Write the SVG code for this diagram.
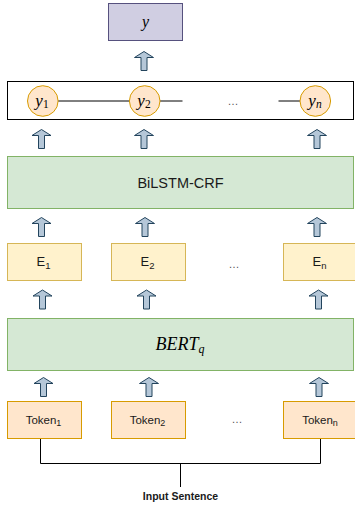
<svg xmlns="http://www.w3.org/2000/svg" width="355" height="506" viewBox="0 0 355 506">
<style>
.math{font-family:"Liberation Serif","DejaVu Serif",serif;font-style:italic;fill:#000}
.sans{font-family:"Liberation Sans",Arial,sans-serif;fill:#1a1a1a}
.green{fill:#d5e8d4;stroke:#82b366;stroke-width:1}
.yel{fill:#fff2cc;stroke:#d6b656;stroke-width:1}
.org{fill:#ffe6cc;stroke:#d79b00;stroke-width:1}
.arr{fill:#b5c7d8;stroke:#23445d;stroke-width:1;stroke-linejoin:miter}
.ln{fill:none;stroke:#000;stroke-width:1}
.dots{font-family:"Liberation Sans",Arial,sans-serif;font-size:11px;fill:#555}
</style>
<defs>
<path id="up" class="arr" d="M0,0 L9.5,6 L3,6 L3,19 L-3,19 L-3,6 L-9.5,6 Z"/>
</defs>
<g id="connectors">
<use href="#up" x="144" y="51.5"/>
<use href="#up" x="41.5" y="129.5"/>
<use href="#up" x="144" y="129.5"/>
<use href="#up" x="317" y="129.5"/>
<use href="#up" x="41.5" y="217.5"/>
<use href="#up" x="145" y="217.5"/>
<use href="#up" x="317" y="217.5"/>
<use href="#up" x="42.5" y="290"/>
<use href="#up" x="146.5" y="290"/>
<use href="#up" x="318.5" y="290"/>
<use href="#up" x="43.5" y="377.5"/>
<use href="#up" x="149" y="377.5"/>
<use href="#up" x="319" y="377.5"/>
<path class="ln" d="M40.5,438.5 V463.5 H320.5 V438.5 M180.5,463.5 V487"/>
</g>
<g id="y-out">
<rect x="108.5" y="3.5" width="74" height="37" fill="#d0cee2" stroke="#56517e"/>
<text class="math" x="145.5" y="27" font-size="16" text-anchor="middle">y</text>
</g>
<g id="crf-out">
<rect x="7.5" y="81.5" width="346" height="38" fill="#fff" stroke="#000"/>
<path class="ln" d="M58,101 H129.5 M160,101 H182.5 M278.5,101 H300" stroke="#333"/>
<text class="dots" x="233" y="105" text-anchor="middle">…</text>
</g>
<g id="y1">
<circle class="org" cx="42.8" cy="101" r="15.3"/>
<text class="math" x="42" y="105.5" font-size="17" text-anchor="middle">y<tspan font-size="11.5" font-style="normal" dy="2">1</tspan></text>
</g>
<g id="y2">
<circle class="org" cx="144.7" cy="101" r="15.3"/>
<text class="math" x="144" y="105.5" font-size="17" text-anchor="middle">y<tspan font-size="11.5" font-style="normal" dy="2">2</tspan></text>
</g>
<g id="yn">
<circle class="org" cx="315.3" cy="101" r="15.3"/>
<text class="math" x="315" y="105.5" font-size="17" text-anchor="middle">y<tspan font-size="11.5" dy="2">n</tspan></text>
</g>
<g id="bilstm">
<rect class="green" x="7.5" y="156.5" width="346" height="52"/>
<text class="sans" x="180.5" y="187.5" font-size="14.5" text-anchor="middle">BiLSTM-CRF</text>
</g>
<g id="e1">
<rect class="yel" x="7.5" y="243.5" width="74" height="37"/>
<text class="sans" x="43.5" y="266" font-size="13" text-anchor="middle">E<tspan font-size="9.5" dy="2.5">1</tspan></text>
</g>
<g id="e2">
<rect class="yel" x="111.5" y="243.5" width="74" height="37"/>
<text class="sans" x="147.5" y="266" font-size="13" text-anchor="middle">E<tspan font-size="9.5" dy="2.5">2</tspan></text>
</g>
<text class="dots" x="234" y="268" text-anchor="middle">…</text>
<g id="en">
<rect class="yel" x="283.5" y="243.5" width="74" height="37"/>
<text class="sans" x="319.5" y="266" font-size="13" text-anchor="middle">E<tspan font-size="9.5" dy="2.5">n</tspan></text>
</g>
<g id="bert">
<rect class="green" x="7.5" y="318.5" width="346" height="52"/>
<text class="math" x="180" y="350" font-size="18" text-anchor="middle">BERT<tspan font-size="12" dy="3">q</tspan></text>
</g>
<g id="tok1">
<rect class="org" x="7.5" y="401.5" width="74" height="37"/>
<text class="sans" x="43.5" y="423.5" font-size="11.5" text-anchor="middle">Token<tspan font-size="9" dy="2.5">1</tspan></text>
</g>
<g id="tok2">
<rect class="org" x="111.5" y="401.5" width="74" height="37"/>
<text class="sans" x="147.5" y="423.5" font-size="11.5" text-anchor="middle">Token<tspan font-size="9" dy="2.5">2</tspan></text>
</g>
<text class="dots" x="237" y="423" text-anchor="middle">…</text>
<g id="tokn">
<rect class="org" x="283.5" y="401.5" width="74" height="37"/>
<text class="sans" x="320" y="423.5" font-size="11.5" text-anchor="middle">Token<tspan font-size="9" dy="2.5">n</tspan></text>
</g>
<g id="input">
<text class="sans" x="180.5" y="499.5" font-size="10.5" font-weight="bold" text-anchor="middle">Input Sentence</text>
</g>
</svg>
